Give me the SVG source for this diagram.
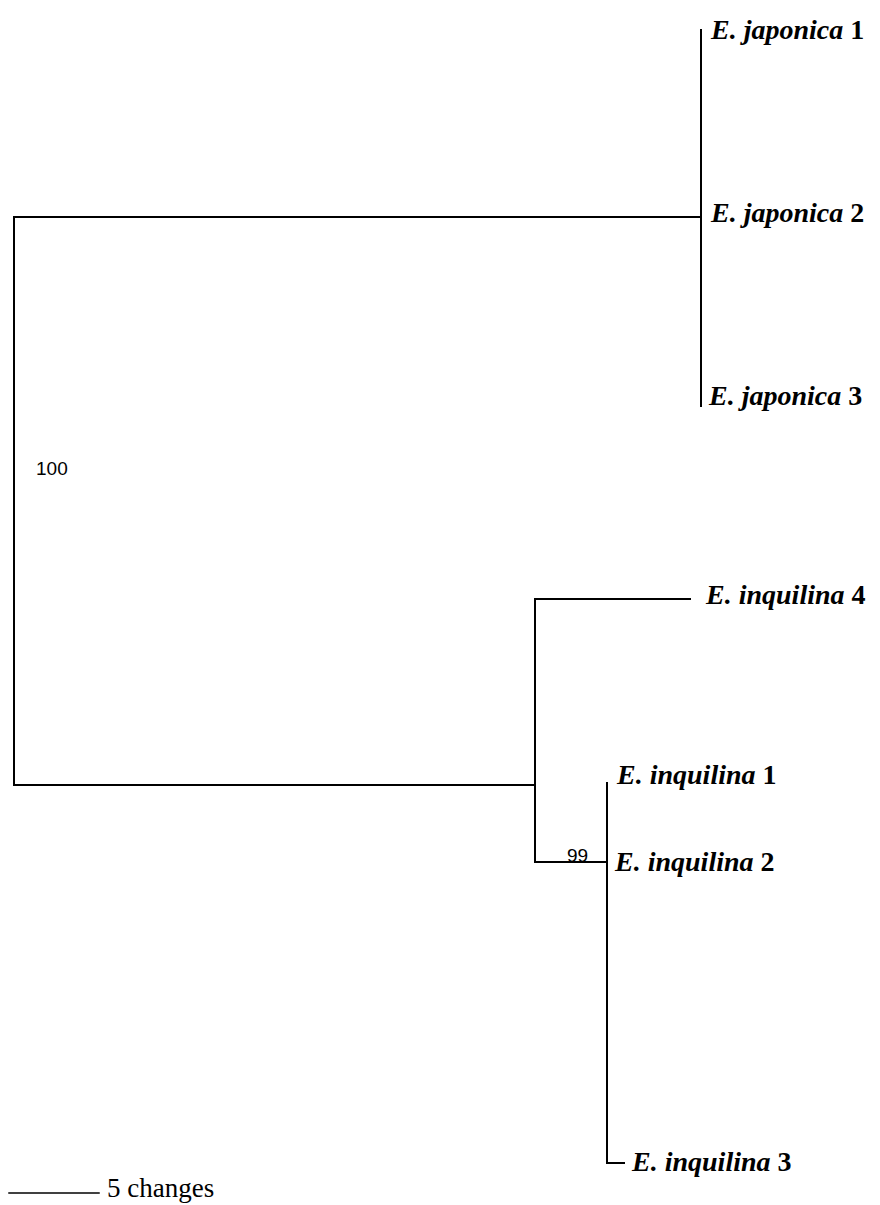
<svg xmlns="http://www.w3.org/2000/svg" width="880" height="1205" viewBox="0 0 880 1205">
<style>
.br{stroke:#000;stroke-width:2;fill:none;stroke-linecap:square}
.tx{font-family:"Liberation Serif",serif;font-size:28px;font-weight:bold;fill:#000}
.sp{font-style:italic}
.bs{font-family:"Liberation Sans",sans-serif;font-size:19px;fill:#000}
.sc{font-family:"Liberation Serif",serif;font-size:27px;fill:#000}
</style>
<rect width="880" height="1205" fill="#fff"/>
<g id="connectors">
<path class="br" d="M14,217 V785 M14,217 H701 M14,785 H535 M701,30 V406 M535,599 V862 M535,599 H690 M535,862 H607 M607,783 V1163 M607,1163 H624"/>
</g>
<g id="n-jap1"><text class="tx" x="711" y="39"><tspan class="sp">E. japonica</tspan> 1</text></g>
<g id="n-jap2"><text class="tx" x="711" y="222"><tspan class="sp">E. japonica</tspan> 2</text></g>
<g id="n-jap3"><text class="tx" x="709" y="405"><tspan class="sp">E. japonica</tspan> 3</text></g>
<g id="n-inq4"><text class="tx" x="706" y="604"><tspan class="sp">E. inquilina</tspan> 4</text></g>
<g id="n-inq1"><text class="tx" x="617" y="784"><tspan class="sp">E. inquilina</tspan> 1</text></g>
<g id="n-inq2"><text class="tx" x="615" y="871"><tspan class="sp">E. inquilina</tspan> 2</text></g>
<g id="n-inq3"><text class="tx" x="632" y="1171"><tspan class="sp">E. inquilina</tspan> 3</text></g>
<g id="support-100"><text class="bs" x="36" y="475">100</text></g>
<g id="support-99"><text class="bs" x="567" y="862">99</text></g>
<g id="scale">
<line class="br" x1="9" y1="1193" x2="99" y2="1193" style="stroke-width:1.5"/>
<text class="sc" x="107" y="1197">5 changes</text>
</g>
</svg>
